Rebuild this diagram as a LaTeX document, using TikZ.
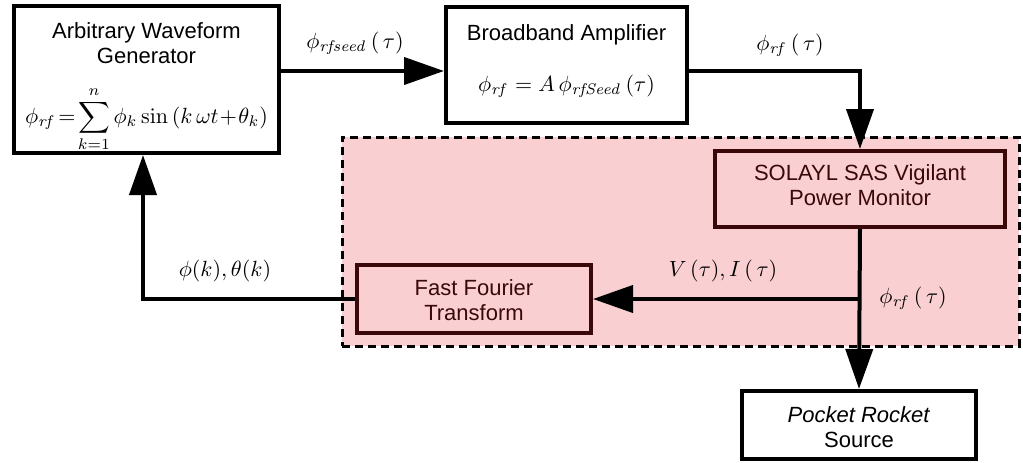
\documentclass[tikz,border=0pt]{standalone}
\usepackage[no-math]{fontspec}
\setmainfont{Liberation Sans}
\usetikzlibrary{arrows.meta,calc}
\definecolor{pinkfill}{HTML}{F9CFD1}
\definecolor{darkbr}{HTML}{3A0808}
\begin{document}
\begin{tikzpicture}[x=1pt,y=-1pt,
  font=\fontsize{10}{11.6}\selectfont,
  box/.style={draw=black, line width=4pt, fill=white, inner sep=0pt},
  pbox/.style={draw=darkbr, line width=4pt, fill=pinkfill, inner sep=0pt},
  zonebox/.style={draw=black, line width=3pt, dash pattern=on 8pt off 5pt, fill=pinkfill, inner sep=0pt},
  conn/.style={line width=4pt, -{Triangle[length=40pt,width=27pt]}},
  txt/.style={align=center, inner sep=0pt, transform shape, scale=2.2},
  ptxt/.style={txt, text=darkbr}]
\useasboundingbox (0,0) rectangle (1023,463);
% shaded zone
\node[zonebox, minimum width=677, minimum height=209] (zone) at (680.5,241.5) {};
% boxes
\node[box, minimum width=265, minimum height=147] (awg) at (146.5,79.5) {};
\node[txt] (awgt) at (146.5,43) {Arbitrary Waveform\\Generator};
\node[txt] (awge) at (146.5,119.5) {$\displaystyle \phi_{\mathit{rf}}\!=\!\sum_{k=1}^{n} \phi_k \sin\left(k\,\omega t\!+\!\theta_k\right)$};
\node[box, minimum width=241, minimum height=116] (ba) at (566.5,65) {};
\node[txt] (bat) at (566.5,35) {Broadband Amplifier};
\node[txt] (bae) at (566.5,86) {$\phi_{\mathit{rf}} = A\,\phi_{\mathit{rfSeed}}\left(\tau\right)$};
\node[pbox, minimum width=290, minimum height=76] (sol) at (860,189) {};
\node[ptxt] (solt) at (860,185) {SOLAYL SAS Vigilant\\Power Monitor};
\node[pbox, minimum width=234, minimum height=68] (fft) at (474,299) {};
\node[ptxt] (fftt) at (474,300) {Fast Fourier\\Transform};
\node[box, minimum width=234, minimum height=68] (pr) at (859,425) {};
\node[txt] (prt) at (859,427) {\textit{Pocket Rocket}\\Source};
% connectors
\coordinate (awgout) at (0,71);
\coordinate (awgin) at (143,0);
\draw[conn] (awg.east |- awgout) -- (ba.west |- awgout);
\draw[conn] (ba.east |- awgout) -| (sol.north);
\draw[conn] (sol.south) -- (pr.north);
\coordinate (junc) at (sol.south |- fft.east);
\draw[conn] (junc) -- (fft.east);
\draw[conn] (fft.west) -| (awgin |- awg.south);
% labels
\node[txt] (l1) at (355,43) {$\phi_{\mathit{rfseed}}\left(\,\tau\right)$};
\node[txt] (l2) at (790,45) {$\phi_{\mathit{rf}}\left(\,\tau\right)$};
\node[txt] (l3) at (913,298) {$\phi_{\mathit{rf}}\left(\,\tau\right)$};
\node[txt] (l4) at (723,271) {$V\left(\tau\right)\!,I\left(\,\tau\right)$};
\node[txt] (l5) at (225,271) {$\phi(k),\theta(k)$};
\end{tikzpicture}
\end{document}
